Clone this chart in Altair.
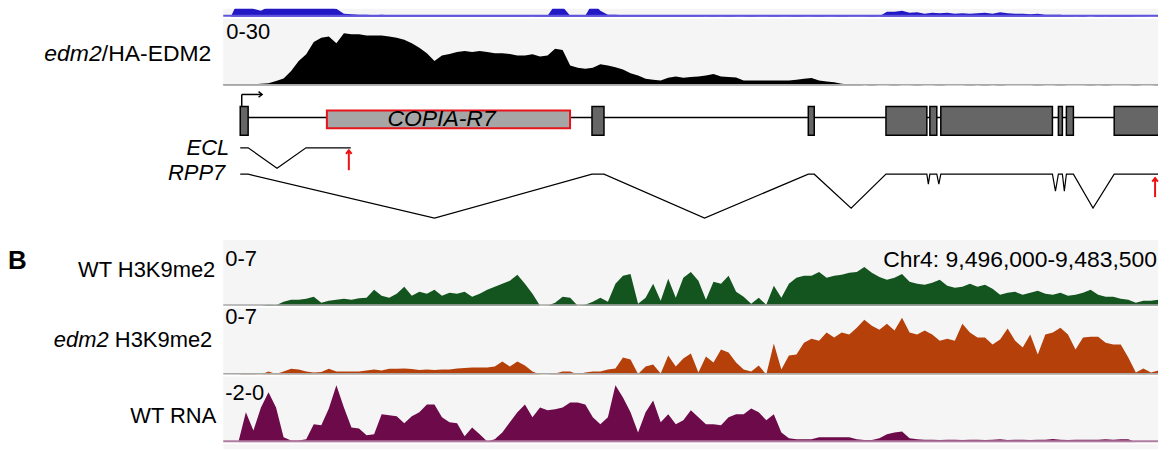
import altair as alt
import pandas as pd

FONT = "Liberation Sans"
BG = "#f5f5f5"
REGION_BP = 12500          # Chr4: 9,496,000-9,483,500 (minus strand, left to right)
VISIBLE_BP = 12394         # part of the region that fits in the window
STEP_BP = 100
positions = list(range(0, REGION_BP + 1, STEP_BP))

# ---------------- coverage tracks (one value per 100 bp bin) ----------------
blue_vals = [0, 0, 16, 16, 8, 6, 10, 16, 18, 18,
             18, 18, 18, 18, 10, 8, 3, 2.5, 2, 2,
             1.5, 2, 1.5, 1.5, 1, 1.5, 1, 1.5, 1, 1,
             1.5, 1, 1, 1.5, 1, 1, 1.5, 1, 1, 1,
             1, 0.5, 1, 1, 12, 10, 1, 1, 1, 14,
             6, 2, 2, 1.5, 1.5, 1.5, 1, 1.5, 1, 1.5,
             1, 1.5, 1, 1, 0.5, 1, 0.5, 1, 0.5, 0.5,
             1, 0.5, 0.5, 1, 0.5, 0.5, 1, 0.5, 0.5, 1,
             0.5, 0.5, 1, 0.5, 0.5, 0.5, 1, 0.5, 5, 5,
             6, 4, 4.5, 3, 4, 3.5, 4, 3, 3.5, 3,
             3.5, 4, 3, 4.5, 3.5, 3, 3, 2.5, 3, 2,
             2, 2, 1, 0.5, 1, 0, 1, 0.5, 1.5, 1.5,
             1, 0.5, 0.5, 0.3, 0.3, 0.3]

edm2_ha_vals = [0.4, 0.4, 0.5, 0.4, 0.5, 0.8, 1.0, 2.0, 3.2, 6.5,
                11, 14, 19.5, 21.5, 22, 19, 23.5, 23, 23, 22.5,
                22.5, 22.5, 22, 21.5, 20.5, 19, 17, 14.5, 11, 13.5,
                14.2, 15, 15.5, 15, 15.5, 15, 14.5, 14.5, 14.2, 13.5,
                13.5, 14, 13, 13.5, 16.5, 16, 9, 8, 7.5, 8,
                9.5, 9, 8.2, 7.2, 5.5, 4.5, 3, 2.6, 2.3, 3.5,
                4, 3.5, 3.8, 4, 4.5, 5.2, 4, 3.8, 3.6, 2.3,
                2.2, 2.2, 2.2, 2.2, 2.2, 2.2, 2.6, 3, 3.4, 2.2,
                1.8, 1.5, 0.8, 0.4, 0.6, 0, 0.3, 0, 0, 0.3,
                0, 0, 0.3, 0, 0, 0.3, 0, 0, 0, 0.3,
                0, 0.3, 0, 0.3, 0, 0, 0, 0, 0.3, 0,
                0, 0.3, 0, 0, 0, 0.3, 0, 0.3, 0, 0,
                0, 0.3, 0, 0, 0.3, 0]

wt_k9_vals = [0, 0, 0, 0, 0, 0, 0.1, 0.05, 0.42, 0.64,
              0.64, 0.74, 0.95, 0.32, 0.53, 0.64, 0.74, 0.64, 0.8, 0.85,
              1.7, 1.06, 0.85, 1.27, 2.01, 1.06, 1.48, 1.27, 1.7, 1.06,
              1.38, 1.27, 1.48, 0.95, 1.27, 1.7, 2.01, 2.33, 2.65, 3.29,
              2.33, 1.27, 0, 0, 0.32, 0.95, 0.85, 0, 0.1, 0.42,
              0.85, 0.42, 2.33, 3.18, 3.39, 0.21, 0.85, 2.33, 0.53, 2.86,
              0.85, 2.97, 3.6, 2.65, 0.64, 2.54, 2.33, 3.18, 1.48, 0.95,
              0.21, 0.85, 0.1, 2.12, 0.85, 2.33, 2.97, 3.18, 3.18, 3.6,
              2.97, 3.18, 3.29, 3.5, 3.6, 4.13, 3.5, 3.07, 2.76, 2.97,
              3.39, 2.54, 2.33, 2.23, 2.44, 2.76, 2.12, 1.91, 2.01, 2.33,
              2.01, 2.23, 1.8, 1.17, 1.38, 1.48, 1.17, 1.38, 1.59, 1.27,
              1.17, 1.38, 1.06, 1.17, 1.38, 1.7, 1.17, 0.95, 0.95, 0.74,
              0.64, 0.32, 0.53, 0.53, 0.64, 0.53]

edm2_k9_vals = [0, 0, 0, 0.1, 0.05, 0, 0.31, 0.05, 0.31, 0.6,
                0.52, 0.31, 0.21, 0.26, 0.6, 0.31, 0.31, 0.31, 0.31, 0.42,
                0.52, 0.42, 0.6, 0.6, 0.63, 0.57, 0.47, 0.52, 0.47, 0.52,
                0.52, 0.63, 0.68, 0.73, 0.73, 0.73, 0.84, 1.36, 0.84, 1.36,
                0.94, 0.31, 0, 0, 0.1, 0.31, 0.31, 0, 0.21, 0.31,
                0.31, 0.52, 0.63, 1.78, 1.57, 0.05, 0.84, 1.05, 0.1, 1.99,
                0.84, 1.67, 2.19, 0.21, 1.88, 1.25, 2.61, 2.3, 1.25, 0.52,
                0.31, 0.94, 0, 3.24, 0.52, 1.99, 2.09, 3.34, 3.76, 3.55,
                4.39, 3.87, 4.39, 4.18, 4.91, 5.75, 5.12, 4.7, 5.33, 4.6,
                5.96, 4.39, 4.18, 4.6, 4.18, 3.55, 3.76, 3.55, 5.33, 4.39,
                3.87, 3.87, 3.14, 3.66, 4.81, 3.55, 2.82, 4.18, 2.09, 4.18,
                4.39, 4.91, 4.18, 2.61, 3.87, 3.97, 3.97, 3.34, 3.14, 3.14,
                1.78, 0.21, 0.63, 0.21, 0.42, 0.94]

wt_rna_vals = [0, 0, 0, -0.91, -0.36, -1.06, -1.52, -1.06, -0.15, -0.05,
               -0.05, -0.09, -0.55, -0.52, -1.03, -1.73, -1.06, -0.45, -0.42, -0.21,
               -0.24, -0.85, -0.82, -0.79, -0.58, -0.79, -0.91, -1.15, -1.15, -0.76,
               -0.61, -0.58, -0.18, -0.45, -0.24, -0.02, -0.09, -0.3, -0.61, -0.91,
               -1.15, -0.76, -1.06, -0.97, -1.0, -1.06, -1.21, -1.21, -1.15, -0.76,
               -0.55, -0.76, -1.73, -1.36, -0.91, -0.3, -0.91, -1.27, -0.61, -0.85,
               -0.55, -0.67, -0.97, -0.76, -0.55, -0.55, -0.52, -0.76, -0.85, -0.85,
               -1.03, -0.91, -0.67, -0.85, -0.3, -0.12, -0.09, -0.09, -0.09, -0.15,
               -0.15, -0.15, -0.15, -0.15, -0.09, -0.07, -0.07, -0.12, -0.24, -0.3,
               -0.33, -0.12, -0.09, -0.08, -0.08, -0.07, -0.08, -0.08, -0.07, -0.08,
               -0.08, -0.07, -0.08, -0.09, -0.07, -0.08, -0.08, -0.07, -0.08, -0.08,
               -0.1, -0.08, -0.07, -0.08, -0.08, -0.08, -0.08, -0.09, -0.08, -0.09,
               -0.09, 0, 0, 0, 0, 0]

# ---------------- gene model (bp offsets) ----------------
exon_start = [225, 4889, 7757, 8787, 9369, 9514, 11073, 11179, 11813]
exon_end = [330, 5048, 7836, 9329, 9461, 10994, 11126, 11272, 12421]
te_name = ["COPIA-R7"]
te_start = [1374]
te_end = [4598]
te_label_pos = [2894]
tss_pos = [245]
tss_arrow_end = [515]
ecl_x = [225, 330, 713, 1097, 1691]
ecl_row = [60.5, 60.5, 81, 60.5, 60.5]
rpp7_x = [225, 330, 2801, 4889, 5048, 6382, 7757, 7836, 8325, 8787, 9329, 9349, 9369,
          9461, 9488, 9514, 10994, 11034, 11073, 11126, 11152, 11179, 11272, 11532,
          11813, 12421]
rpp7_row = [87, 87, 131, 87, 87, 131, 87, 87, 121, 87, 87, 97, 87,
            87, 97, 87, 87, 104, 87, 87, 104, 87, 87, 121,
            87, 87]
transcript_end_pos = [1665, 12355]
transcript_end_tip = [63, 91]
transcript_end_base = [83, 110]

track_names = ["edm2/HA-EDM2", "WT H3K9me2", "edm2 H3K9me2", "WT RNA"]
track_ranges = ["0-30", "0-7", "0-7", "-2-0"]
region_label = "Chr4: 9,496,000-9,483,500"

W = 938
XS = alt.Scale(domain=[0, VISIBLE_BP], nice=False, zero=False)
one = pd.DataFrame({"k": [0]})


def label(text, x, y, size=22, align="right", style="normal", weight="normal"):
    return alt.Chart(pd.DataFrame({"t": [text]})).mark_text(
        align=align, baseline="middle", font=FONT, fontSize=size,
        fontStyle=style, fontWeight=weight, color="black"
    ).encode(x=alt.value(x), y=alt.value(y), text="t:N")


def track(values, color, height, domain, base_color, base_width, extras):
    df = pd.DataFrame({"pos": positions, "value": values})
    area = alt.Chart(df).mark_area(color=color, interpolate="linear", clip=True).encode(
        x=alt.X("pos:Q", scale=XS, axis=None),
        y=alt.Y("value:Q", scale=alt.Scale(domain=domain, nice=False, zero=False),
                axis=None, stack=None),
    )
    base = alt.Chart(one).mark_rule(color=base_color, strokeWidth=base_width).encode(
        x=alt.value(0), x2=alt.value(W), y=alt.value(height - base_width / 2)
    )
    return alt.layer(area, base, *extras).properties(
        width=W, height=height, view=alt.ViewBackground(fill=BG, strokeWidth=0)
    )


blue = track(blue_vals, "#2218c4", 8, [0, 8], "#5e55dc", 2, [])

black = track(edm2_ha_vals, "#000000", 67, [0, 30], "#a8a8a8", 1.5, [
    label("/HA-EDM2", -12, 35, size=23),
    label("edm2", -122, 35, size=23, style="italic"),
    label(track_ranges[0], 3, 13, size=22, align="left"),
])

green = track(wt_k9_vals, "#13541f", 66, [0, 7], "#a8a8a8", 1.5, [
    label("B", -216, 21, size=26, align="left", weight="bold"),
    label(track_names[1], -8, 30),
    label(track_ranges[1], 2, 19.5, align="left"),
    label(region_label, 937, 20, size=23),
])

orange = track(edm2_k9_vals, "#b5400a", 67, [0, 7], "#a8a8a8", 1.5, [
    label(" H3K9me2", -11, 32.8),
    label("edm2", -115, 32.8, style="italic"),
    label(track_ranges[2], 2, 9.5, align="left"),
])

rna = track(wt_rna_vals, "#6c0a4a", 66, [0, -2], "#b07ca0", 2, [
    label(track_names[3], -7, 39.7),
    label(track_ranges[3], 2, 17, align="left"),
])

tail = alt.Chart(one).mark_rule(opacity=0).encode(
    x=alt.value(0), x2=alt.value(W), y=alt.value(0)
).properties(width=W, height=5, view=alt.ViewBackground(fill=BG, strokeWidth=0))

# ---------------- gene panel ----------------
YG = alt.Scale(domain=[0, 151], reverse=True, nice=False, zero=False)
exons = pd.DataFrame({"start": exon_start, "end": exon_end})
te = pd.DataFrame({"start": te_start, "end": te_end, "name": te_name, "lab": te_label_pos})

intron = alt.Chart(pd.DataFrame({"s": [exon_end[0]], "e": [exon_start[-1]], "r": [30]})).mark_rule(
    color="black", strokeWidth=1.5, clip=True).encode(
    x=alt.X("s:Q", scale=XS, axis=None), x2="e:Q", y=alt.Y("r:Q", scale=YG, axis=None))

exon_boxes = alt.Chart(exons).transform_calculate(top="19", bot="48").mark_rect(
    fill="#666666", stroke="black", strokeWidth=1.5, clip=True).encode(
    x=alt.X("start:Q", scale=XS, axis=None), x2="end:Q",
    y=alt.Y("top:Q", scale=YG, axis=None), y2="bot:Q")

te_box = alt.Chart(te).transform_calculate(top="23", bot="41").mark_rect(
    fill="#a6a6a6", stroke="#e8141c", strokeWidth=2).encode(
    x=alt.X("start:Q", scale=XS, axis=None), x2="end:Q",
    y=alt.Y("top:Q", scale=YG, axis=None), y2="bot:Q")

te_text = alt.Chart(te).transform_calculate(r="32").mark_text(
    font=FONT, fontSize=23, fontStyle="italic", color="#000000", baseline="middle").encode(
    x=alt.X("lab:Q", scale=XS, axis=None), y=alt.Y("r:Q", scale=YG, axis=None), text="name:N")

tss = pd.DataFrame({"x": tss_pos, "x2": tss_arrow_end, "r1": [7], "r2": [19]})
tss_v = alt.Chart(tss).mark_rule(color="black", strokeWidth=1.5).encode(
    x=alt.X("x:Q", scale=XS, axis=None), y=alt.Y("r1:Q", scale=YG, axis=None), y2="r2:Q")
tss_h = alt.Chart(tss).mark_rule(color="black", strokeWidth=1.5).encode(
    x=alt.X("x:Q", scale=XS, axis=None), x2="x2:Q", y=alt.Y("r1:Q", scale=YG, axis=None))
tss_head = alt.Chart(tss).mark_point(
    shape="M-1,-0.8L0,0L-1,0.8", filled=False, color="black", strokeWidth=1.5, size=50, opacity=1).encode(
    x=alt.X("x2:Q", scale=XS, axis=None), y=alt.Y("r1:Q", scale=YG, axis=None))

ecl = alt.Chart(pd.DataFrame({"x": ecl_x, "r": ecl_row, "o": list(range(len(ecl_x)))})).mark_line(
    color="black", strokeWidth=1.2).encode(
    x=alt.X("x:Q", scale=XS, axis=None), y=alt.Y("r:Q", scale=YG, axis=None), order="o:Q")
rpp7 = alt.Chart(pd.DataFrame({"x": rpp7_x, "r": rpp7_row, "o": list(range(len(rpp7_x)))})).mark_line(
    color="black", strokeWidth=1.2, clip=True).encode(
    x=alt.X("x:Q", scale=XS, axis=None), y=alt.Y("r:Q", scale=YG, axis=None), order="o:Q")

ends = pd.DataFrame({"x": transcript_end_pos, "tip": transcript_end_tip, "base": transcript_end_base})
end_shaft = alt.Chart(ends).mark_rule(color="#ee1111", strokeWidth=2).encode(
    x=alt.X("x:Q", scale=XS, axis=None), y=alt.Y("tip:Q", scale=YG, axis=None), y2="base:Q")
end_head = alt.Chart(ends).mark_point(
    shape="M-0.8,1L0,0L0.8,1", filled=False, color="#ee1111", strokeWidth=2, size=50, opacity=1).encode(
    x=alt.X("x:Q", scale=XS, axis=None), y=alt.Y("tip:Q", scale=YG, axis=None))

gene = alt.layer(
    intron, exon_boxes, te_box, te_text, tss_v, tss_h, tss_head, ecl, rpp7, end_shaft, end_head,
    label("ECL", 6, 60.7, style="italic"),
    label("RPP7", 2, 86, style="italic"),
).properties(width=W, height=151, view=alt.ViewBackground(fill="white", strokeWidth=0))

chart = alt.vconcat(
    blue, black, gene, green, orange, rna, tail, spacing=2, bounds="flush"
).resolve_scale(y="independent").properties(
    padding={"left": 0, "top": 0, "right": 0, "bottom": 0}
).configure_view(strokeWidth=0)

chart.save("out.html", embed_options={"renderer": "svg", "actions": False})
